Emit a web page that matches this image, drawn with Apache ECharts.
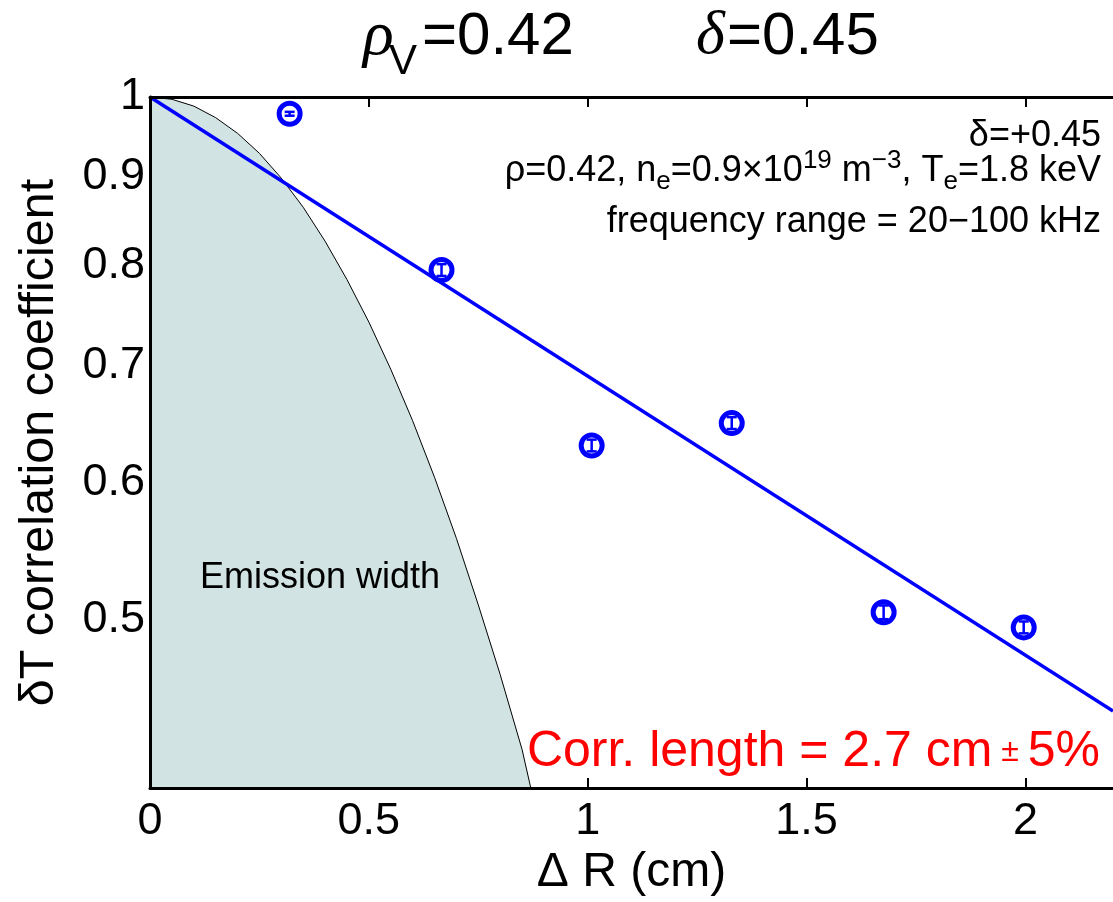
<!DOCTYPE html>
<html><head><meta charset="utf-8">
<script src="https://cdn.jsdelivr.net/npm/echarts@6/dist/echarts.min.js"></script>
<style>html,body{margin:0;padding:0;background:#fff}#c{width:1113px;height:902px}</style>
</head><body><div id="c"></div>
<script>
// ---- data ----
const xTickValues = [0, 0.5, 1, 1.5, 2];
const yTickValues = [0.5, 0.6, 0.7, 0.8, 0.9, 1];
const deltaR = [0.319, 0.666, 1.009, 1.329, 1.676, 1.996];
const corrCoef = [0.978, 0.795, 0.630, 0.649, 0.505, 0.495];
const corrErr = [0.0025, 0.0062, 0.0049, 0.0051, 0.0046, 0.0039];
const fitX = [0, 2.2];
const fitY = [1, 0.443];
const emisX = [0, 0.05, 0.1, 0.15, 0.2, 0.25, 0.3, 0.35, 0.4, 0.45, 0.5, 0.55, 0.6, 0.65, 0.7, 0.75, 0.8, 0.85, 0.87];
const emisY = [1, 0.997, 0.988, 0.973, 0.953, 0.928, 0.898, 0.864, 0.826, 0.785, 0.742, 0.697, 0.651, 0.604, 0.557, 0.510, 0.465, 0.421, 0.40];

const FONT = 'Liberation Sans';
const BLUE = '#0000ff';
const chart = echarts.init(document.getElementById('c'), null, {renderer: 'canvas'});

const zip = (a, b) => a.map((v, i) => [v, b[i]]);

const option = {
  animation: false,
  backgroundColor: '#fff',
  grid: {left: 150, right: -9, top: 97, bottom: 106, containLabel: false},
  xAxis: [{
    type: 'value', min: 0, max: 2.2, interval: 0.5, position: 'bottom', z: 5,
    name: 'Δ R (cm)', nameLocation: 'middle', nameGap: 57,
    nameTextStyle: {fontFamily: FONT, fontSize: 48, color: '#000'},
    axisLine: {show: true, onZero: false, lineStyle: {color: '#000', width: 3}},
    axisTick: {show: true, inside: true, length: 10, lineStyle: {color: '#000', width: 2}, customValues: [1, 1.5, 2]},
    axisLabel: {
      fontFamily: FONT, fontSize: 45, color: '#000', margin: 11,
      customValues: xTickValues,
      formatter: v => String(Math.round(v * 10) / 10)
    },
    splitLine: {show: false}
  }, {
    type: 'value', min: 0, max: 2.2, interval: 0.5, position: 'top', z: 5,
    axisLine: {show: true, onZero: false, lineStyle: {color: '#000', width: 3}},
    axisTick: {show: true, inside: true, length: 10, lineStyle: {color: '#000', width: 2}, customValues: [0.5, 1, 1.5, 2]},
    axisLabel: {show: false},
    splitLine: {show: false}
  }],
  yAxis: [{
    type: 'log', logBase: 10, min: 0.4, max: 1, z: 5,
    name: 'δT correlation coefficient', nameLocation: 'middle', nameGap: 86,
    nameTextStyle: {fontFamily: FONT, fontSize: 48.5, color: '#000'},
    axisLine: {show: true, onZero: false, lineStyle: {color: '#000', width: 3}},
    axisTick: {show: false},
    axisLabel: {
      fontFamily: FONT, fontSize: 45, color: '#000', margin: 5,
      customValues: yTickValues,
      formatter: v => String(Math.round(v * 10) / 10)
    },
    splitLine: {show: false}
  }],
  series: [{
    name: 'Emission width',
    type: 'line',
    data: zip(emisX, emisY),
    symbol: 'none',
    lineStyle: {color: '#000', width: 1},
    areaStyle: {color: '#d1e4e3', opacity: 1, origin: 'start'},
    z: 1
  }, {
    name: 'fit',
    type: 'line',
    data: zip(fitX, fitY),
    symbol: 'none',
    lineStyle: {color: BLUE, width: 3.5},
    z: 3
  }, {
    name: 'points',
    type: 'scatter',
    data: zip(deltaR, corrCoef),
    symbol: 'circle',
    symbolSize: 21,
    itemStyle: {color: '#fff', borderColor: BLUE, borderWidth: 5, opacity: 1},
    z: 4
  }, {
    name: 'errors',
    type: 'custom',
    data: deltaR.map((x, i) => [x, corrCoef[i], corrErr[i]]),
    encode: {x: 0, y: 1},
    z: 6,
    renderItem: (params, api) => {
      const x = api.value(0), y = api.value(1), e = api.value(2);
      const t = api.coord([x, y + e]);
      const b = api.coord([x, y - e]);
      const hw = 5;
      const st = {stroke: BLUE, lineWidth: 2.5};
      return {type: 'group', children: [
        {type: 'line', shape: {x1: t[0], y1: t[1], x2: b[0], y2: b[1]}, style: st},
        {type: 'line', shape: {x1: t[0] - hw, y1: t[1], x2: t[0] + hw, y2: t[1]}, style: st},
        {type: 'line', shape: {x1: b[0] - hw, y1: b[1], x2: b[0] + hw, y2: b[1]}, style: st}
      ]};
    }
  }],
  graphic: [
    // title
    {type: 'text', x: 363, y: 37, style: {text: 'ρ', fontFamily: 'Liberation Serif', fontStyle: 'italic', fontSize: 64, fill: '#000', verticalAlign: 'middle'}},
    {type: 'text', x: 389, y: 62, style: {text: 'V', fontFamily: FONT, fontSize: 42, fill: '#000', verticalAlign: 'middle'}},
    {type: 'text', x: 422, y: 37, style: {text: '=0.42', fontFamily: FONT, fontSize: 60, fill: '#000', verticalAlign: 'middle'}},
    {type: 'text', x: 696, y: 37, style: {text: 'δ', fontFamily: 'Liberation Serif', fontStyle: 'italic', fontSize: 62, fill: '#000', verticalAlign: 'middle'}},
    {type: 'text', x: 727, y: 37, style: {text: '=0.45', fontFamily: FONT, fontSize: 60, fill: '#000', verticalAlign: 'middle'}},
    // annotations
    {type: 'text', x: 1101, y: 136, z: 10, style: {text: 'δ=+0.45', fontFamily: FONT, fontSize: 36, fill: '#000', align: 'right', verticalAlign: 'middle'}},
    {type: 'text', x: 1101, y: 171, z: 10, style: {
      text: '{m|ρ=0.42, n}{s|e}{m|=0.9×10}{p|19}{m| m}{p|−3}{m|, T}{s|e}{m|=1.8 keV}',
      align: 'right', verticalAlign: 'middle',
      rich: {
        m: {fontFamily: FONT, fontSize: 36, fill: '#000', lineHeight: 47},
        p: {fontFamily: FONT, fontSize: 26, fill: '#000', lineHeight: 22, verticalAlign: 'top'},
        s: {fontFamily: FONT, fontSize: 26, fill: '#000', lineHeight: 1, verticalAlign: 'bottom'}
      }
    }},
    {type: 'text', x: 1101, y: 222, z: 10, style: {text: 'frequency range = 20−100 kHz', fontFamily: FONT, fontSize: 36, fill: '#000', align: 'right', verticalAlign: 'middle'}},
    {type: 'text', x: 200, y: 578, z: 10, style: {text: 'Emission width', fontFamily: FONT, fontSize: 36, fill: '#000', verticalAlign: 'middle'}},
    {type: 'text', x: 1100, y: 752, z: 10, style: {
      text: '{a|Corr. length = 2.7 cm}{b| ± }{a|5%}',
      align: 'right', verticalAlign: 'middle',
      rich: {
        a: {fontFamily: FONT, fontSize: 50, fill: '#ff0000', lineHeight: 54},
        b: {fontFamily: FONT, fontSize: 32, fill: '#ff0000', lineHeight: 54}
      }
    }}
  ]
};
chart.setOption(option);
</script>
</body></html>
